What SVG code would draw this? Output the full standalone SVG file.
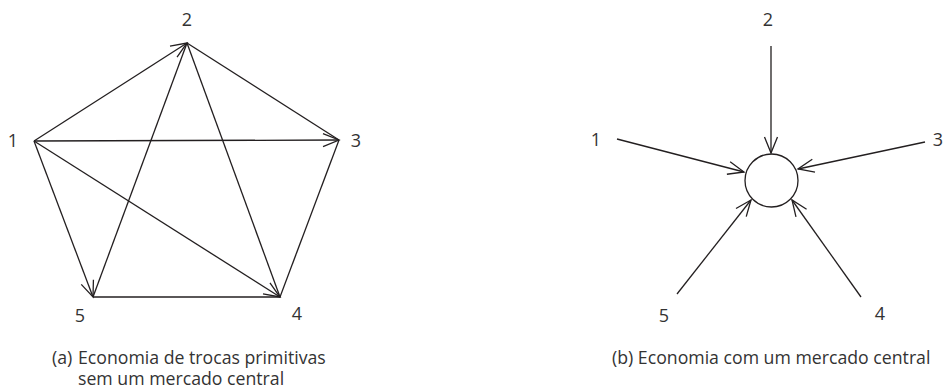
<svg xmlns="http://www.w3.org/2000/svg" width="945" height="389" viewBox="0 0 945 389">
<style>
.e{stroke:#231f20;stroke-width:1.3;fill:none}
.a{marker-end:url(#arr)}
.t{font-family:"Open Sans","Liberation Sans",sans-serif;fill:#333;font-size:18px;text-anchor:middle}
.c{font-family:"Open Sans","Liberation Sans",sans-serif;fill:#333;font-size:17.7px}
</style>
<defs>
<marker id="arr" markerUnits="userSpaceOnUse" markerWidth="24" markerHeight="16" refX="0" refY="0" viewBox="-20 -8 24 16" orient="auto" overflow="visible">
<path d="M-16,-6.5 L0,0 L-16,6.5" fill="none" stroke="#231f20" stroke-width="1.3"/>
</marker>
</defs>
<rect width="945" height="389" fill="#fff"/>
<g id="connectors">
<line class="e a" x1="34" y1="141" x2="187" y2="43"/>
<line class="e a" x1="34" y1="141" x2="339" y2="140"/>
<line class="e a" x1="34" y1="141" x2="280" y2="297"/>
<line class="e a" x1="34" y1="141" x2="93" y2="297"/>
<line class="e" x1="187" y1="43" x2="339" y2="140"/>
<line class="e" x1="187" y1="43" x2="280" y2="297"/>
<line class="e" x1="93" y1="297" x2="187" y2="43"/>
<line class="e" x1="339" y1="140" x2="280" y2="297"/>
<line class="e" x1="93" y1="297" x2="280" y2="297"/>
<line class="e a" x1="771" y1="46" x2="771" y2="153"/>
<line class="e a" x1="617" y1="139" x2="744" y2="172"/>
<line class="e a" x1="925" y1="142" x2="798" y2="169"/>
<line class="e a" x1="677" y1="294" x2="751" y2="200"/>
<line class="e a" x1="861" y1="297" x2="792" y2="200"/>
</g>
<g id="a1"><text class="t" x="13" y="147">1</text></g>
<g id="a2"><text class="t" x="187" y="26">2</text></g>
<g id="a3"><text class="t" x="356" y="147">3</text></g>
<g id="a4"><text class="t" x="297" y="320">4</text></g>
<g id="a5"><text class="t" x="80" y="322">5</text></g>
<g id="market"><circle class="e" cx="771.5" cy="180.5" r="26.5"/></g>
<g id="b1"><text class="t" x="596" y="146">1</text></g>
<g id="b2"><text class="t" x="768" y="26">2</text></g>
<g id="b3"><text class="t" x="938" y="146">3</text></g>
<g id="b4"><text class="t" x="880" y="320">4</text></g>
<g id="b5"><text class="t" x="664" y="322">5</text></g>
<g id="captions">
<text class="c" x="52" y="364">(a)</text>
<text class="c"><tspan x="78" y="364">Economia de trocas primitivas</tspan><tspan x="78" y="385">sem um mercado central</tspan></text>
<text class="c" x="612" y="364">(b) Economia com um mercado central</text>
</g>
</svg>
